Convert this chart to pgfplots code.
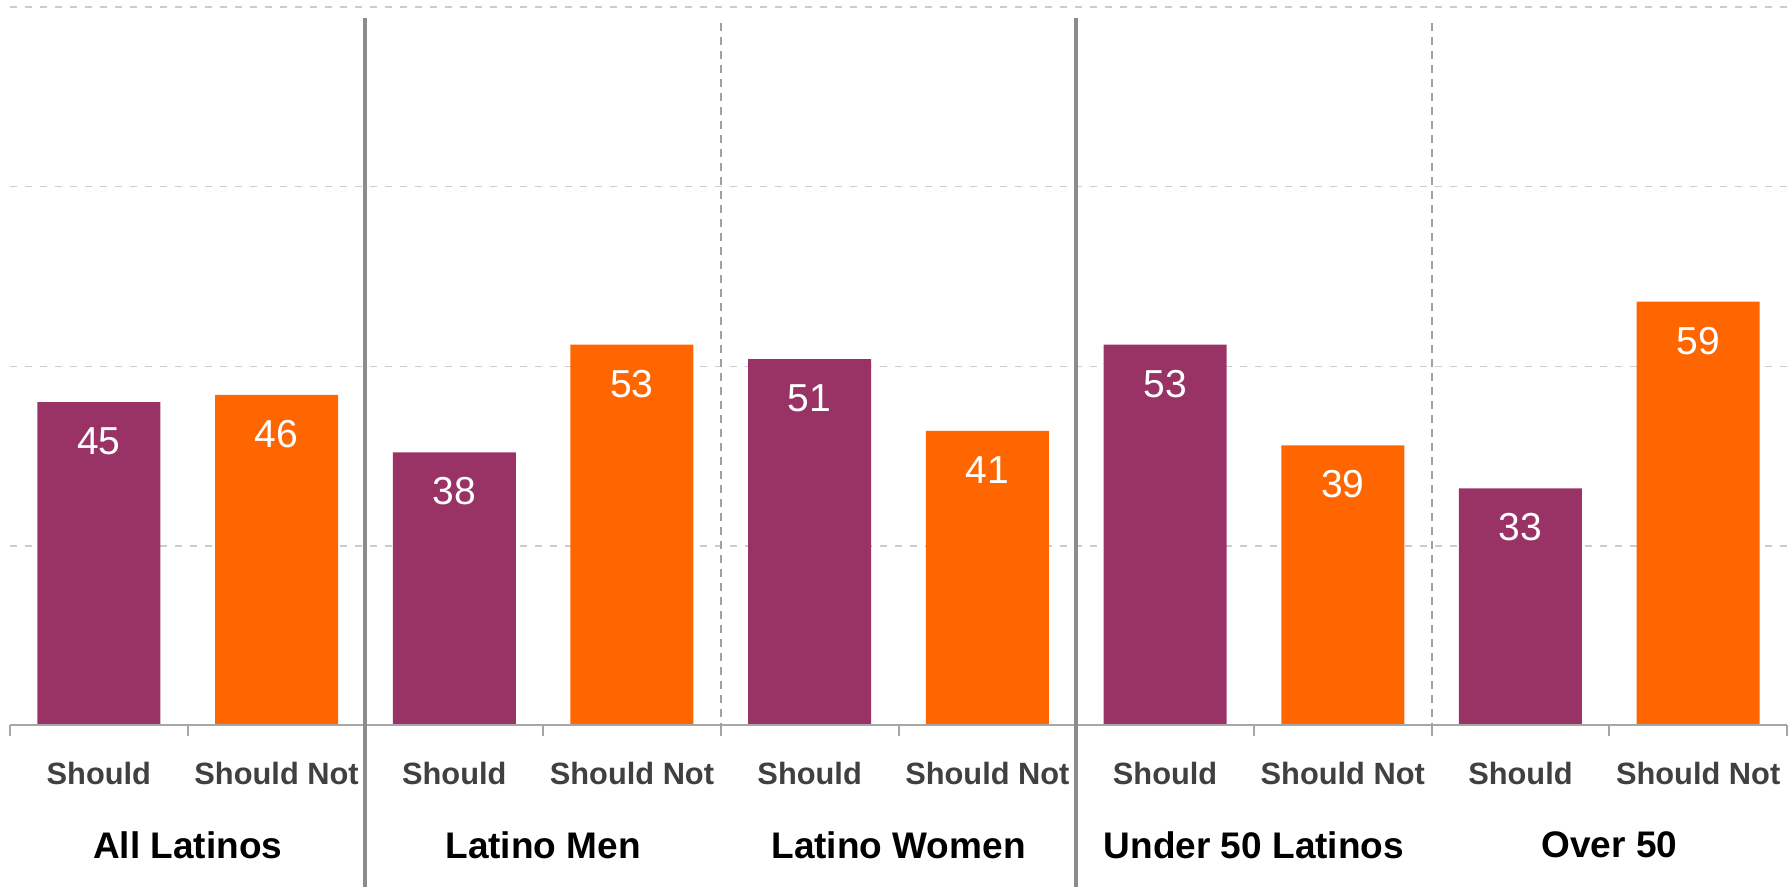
\documentclass[border=0pt]{standalone}
\usepackage{pgfplots}
\pgfplotsset{compat=1.18}
\usepackage{fontspec}
\setmainfont{Liberation Sans}
\definecolor{cShould}{HTML}{993366}
\definecolor{cNot}{HTML}{FF6600}
\definecolor{gridc}{HTML}{CCCCCC}
\definecolor{sepc}{HTML}{8C8C8C}
\definecolor{dsepc}{HTML}{A0A0A0}
\definecolor{axc}{HTML}{A6A6A6}
\definecolor{tickc}{HTML}{404040}
\begin{document}
\begin{tikzpicture}
\path[use as bounding box] (-5pt,-80.75pt) rectangle (889pt,362.75pt);
\begin{axis}[
  at={(0,0)}, anchor=south west,
  scale only axis, width=888.5pt, height=359.25pt,
  xmin=-0.5, xmax=9.5, ymin=0, ymax=100,
  axis line style={draw=none},
  /pgf/number format/assume math mode=true,
  ymajorgrids, ytick={25,50,75,100}, yticklabels={},
  major tick length=0pt,
  ytick style={draw=none}, xtick style={draw=none},
  grid style={dash pattern=on 3.5pt off 4pt, color=gridc, line width=0.7pt},
  xtick={0,...,9},
  xticklabels={Should, Should Not, Should, Should Not, Should, Should Not, Should, Should Not, Should, Should Not},
  xticklabel style={anchor=center, yshift=-23.75pt, font=\fontsize{15.4}{18}\selectfont\bfseries, text=tickc},
  clip=false,
  ybar, bar width=61.5pt,
  nodes near coords,
  every node near coord/.append style={anchor=center, yshift=-19.5pt, text=white, font=\fontsize{19.5}{22}\selectfont},
]
\addplot[fill=cShould, draw=none, bar shift=0pt] coordinates {(0,45) (2,38) (4,51) (6,53) (8,33)};
\addplot[fill=cNot, draw=none, bar shift=0pt] coordinates {(1,46) (3,53) (5,41) (7,39) (9,59)};
% axis line and ticks
\draw[axc, line width=1pt] (axis cs:-0.5,0) -- (axis cs:9.5,0);
\pgfplotsinvokeforeach{-0.5,0.5,1.5,2.5,3.5,4.5,5.5,6.5,7.5,8.5,9.5}{
  \draw[axc, line width=1pt] (axis cs:#1,0) -- ([yshift=-5.5pt]axis cs:#1,0);
}
% separators
\draw[sepc, line width=2pt] (axis cs:1.5,98.5) -- (axis cs:1.5,-22.5);
\draw[sepc, line width=2pt] (axis cs:5.5,98.5) -- (axis cs:5.5,-22.5);
\draw[dsepc, line width=1pt, dash pattern=on 4pt off 3pt] (axis cs:3.5,97.8) -- (axis cs:3.5,-0.5);
\draw[dsepc, line width=1pt, dash pattern=on 4pt off 3pt] (axis cs:7.5,97.8) -- (axis cs:7.5,-0.5);
% group labels
\node[anchor=center, font=\fontsize{18.5}{21}\selectfont\bfseries] at ([yshift=-59.75pt]axis cs:0.5,0) {All Latinos};
\node[anchor=center, font=\fontsize{18.5}{21}\selectfont\bfseries] at ([yshift=-59.75pt]axis cs:2.5,0) {Latino Men};
\node[anchor=center, font=\fontsize{18.5}{21}\selectfont\bfseries] at ([yshift=-59.75pt]axis cs:4.5,0) {Latino Women};
\node[anchor=center, font=\fontsize{18.5}{21}\selectfont\bfseries] at ([yshift=-59.75pt]axis cs:6.5,0) {Under 50 Latinos};
\node[anchor=center, font=\fontsize{18.5}{21}\selectfont\bfseries] at ([yshift=-59.75pt]axis cs:8.5,0) {Over 50};
\end{axis}
\end{tikzpicture}
\end{document}
